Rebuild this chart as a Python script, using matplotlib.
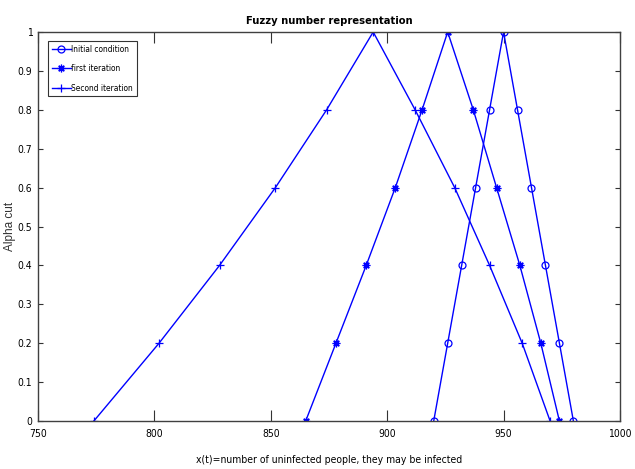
import matplotlib
matplotlib.use("Agg")
import matplotlib.pyplot as plt
from matplotlib.ticker import FixedLocator

# alpha cut levels
alpha = [0, 0.2, 0.4, 0.6, 0.8, 1.0, 0.8, 0.6, 0.4, 0.2, 0]

# x values
initial = [920, 926, 932, 938, 944, 950, 956, 962, 968, 974, 980]
first_it = [865, 878, 891, 903.5, 915, 926, 937, 947, 957, 966, 974]
second_it = [774, 802, 828, 852, 874, 894, 912, 929, 944, 958, 970]

xticks = [750, 800, 850, 900, 950, 1000]
yticks = [0, 0.1, 0.2, 0.3, 0.4, 0.5, 0.6, 0.7, 0.8, 0.9, 1]
ytick_labels = ['0', '0.1', '0.2', '0.3', '0.4', '0.5', '0.6', '0.7', '0.8', '0.9', '1']

plt.rcParams['font.family'] = ['DejaVu Sans']
plt.rcParams['font.stretch'] = 'condensed'

fig = plt.figure(figsize=(6.35, 4.69), dpi=100)
ax = fig.add_axes([0.0598, 0.1023, 0.9165, 0.8295])

ax.plot(initial, alpha, color='blue', marker='o', markersize=5, markerfacecolor='none',
        markeredgewidth=0.9, linewidth=1, label='Initial condition')
ax.plot(first_it, alpha, color='blue', marker=(8, 2, 0), markersize=5.5, linewidth=1,
        markeredgewidth=0.9, label='first iteration')
ax.plot(second_it, alpha, color='blue', marker='+', markersize=6, linewidth=1,
        markeredgewidth=0.9, label='Second iteration')

ax.set_xlim(750, 1000)
ax.set_ylim(0, 1)
ax.xaxis.set_major_locator(FixedLocator(xticks))
ax.yaxis.set_major_locator(FixedLocator(yticks))
ax.set_yticklabels(ytick_labels)
ax.tick_params(axis='x', direction='in', length=8, width=0.8, top=True, labelsize=7.5,
               pad=6, colors='#333333')
ax.tick_params(axis='y', direction='in', length=3.5, width=0.8, right=True, labelsize=7.5,
               pad=4, colors='#333333')
for lbl in ax.get_xticklabels() + ax.get_yticklabels():
    lbl.set_color('black')
for s in ax.spines.values():
    s.set_color('#404040')
    s.set_linewidth(1)

ax.set_title('Fuzzy number representation', fontsize=8, fontweight='bold', pad=6)
ax.set_xlabel('x(t)=number of uninfected people, they may be infected', fontsize=7.5, labelpad=11)
ax.set_ylabel('Alpha cut', fontsize=8.5, family=['Liberation Sans', 'DejaVu Sans'],
              stretch='normal', color='#333333')
ax.yaxis.set_label_coords(-0.037, 0.5)

leg = ax.legend(loc='upper left', bbox_to_anchor=(0.018, 0.977), fontsize=6, frameon=True,
                fancybox=False, edgecolor='black', handlelength=2.2, handletextpad=0.1,
                borderpad=0.45, labelspacing=1.25, borderaxespad=0)
leg.get_frame().set_linewidth(0.8)

fig.savefig('out.png', dpi=100)
